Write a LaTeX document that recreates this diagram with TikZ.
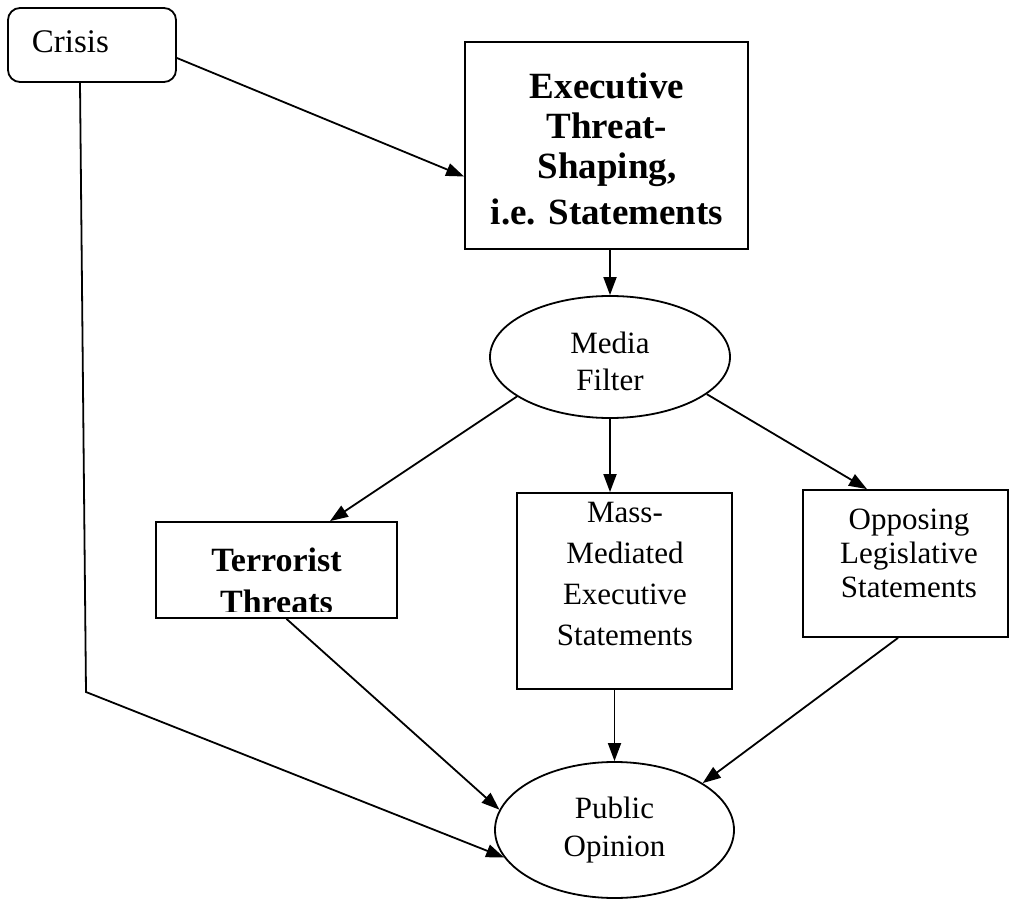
\documentclass[tikz,border=0pt]{standalone}
\usepackage{fontspec}
\setmainfont{Liberation Serif}
\usetikzlibrary{arrows.meta,shapes.geometric,calc}
\begin{document}
\begin{tikzpicture}[x=1pt,y=-1pt,line width=1.8pt,
  box/.style={draw,rectangle,inner sep=0pt},
  oval/.style={draw,ellipse,inner sep=0pt},
  txt/.style={font=\fontsize{31}{37}\selectfont,align=center,inner sep=0pt},
  link/.style={-{Triangle[length=18pt,width=13pt]}}]

\useasboundingbox (0,0) rectangle (1010,901);

% boxes and ovals
\node[draw,rounded corners=12pt,minimum width=168pt,minimum height=74pt,inner sep=0pt]
  (crisis) at (92,45) {};
\node[anchor=base west,inner sep=0pt,font=\fontsize{33}{36}\selectfont] (crisistext)
  at (31,53) {Crisis};

\node[box,minimum width=283pt,minimum height=207pt] (exec) at (606.5,145.5) {};
\node[anchor=north,align=center,inner sep=0pt,font=\fontsize{37}{40}\selectfont\bfseries]
  (exectext) at (607,72) {Executive\\Threat-\\Shaping,\\[6pt]i.e. Statements};

\node[oval,minimum width=240pt,minimum height=122pt] (media) at (610,357) {};
\node[txt] (mediatext) at (610,361) {Media\\Filter};

\node[box,minimum width=241pt,minimum height=96pt] (terr) at (276.5,570) {};
\begin{scope}
  \clip (terr.north west) rectangle ([yshift=7pt]terr.south east);
  \node[anchor=north,font=\fontsize{34}{42}\selectfont\bfseries,align=center,inner sep=0pt]
    (terrtext) at (276.5,547) {Terrorist\\Threats};
\end{scope}

\node[box,minimum width=215pt,minimum height=196pt] (mass) at (624.5,591) {};
\node[anchor=north,align=center,inner sep=0pt,font=\fontsize{31}{41}\selectfont]
  (masstext) at (625,501) {Mass-\\Mediated\\Executive\\Statements};

\node[box,minimum width=205pt,minimum height=147pt] (opp) at (905.5,563.5) {};
\node[anchor=north,align=center,inner sep=0pt,font=\fontsize{31}{34}\selectfont]
  (opptext) at (909,508) {Opposing\\Legislative\\Statements};

\node[oval,minimum width=239pt,minimum height=136pt,align=center,
      font=\fontsize{31}{38.5}\selectfont] (public) at (614.5,830) {Public\\Opinion};

\coordinate (bend) at (86,692);

% connectors
\draw[link] ([yshift=-13pt]crisis.east) -- ([yshift=-31pt]exec.west);
\draw[link] ([xshift=-12pt]crisis.south) -- (bend) -- (public.194);
\draw[link] (exec.south -| media.north) -- (media.north);
\draw[link] (media.203) -- ([xshift=53.5pt]terr.north);
\draw[link] (media.south) -- (mass.north -| media.south);
\draw[link] (media.339) -- ([xshift=-38.5pt]opp.north);
\draw[link] ([xshift=10pt]terr.south) -- (public.170);
\draw[link] (mass.south -| public.north) -- (public.north);
\draw[link] ([xshift=-7.5pt]opp.south) -- (public.28);
\end{tikzpicture}
\end{document}
